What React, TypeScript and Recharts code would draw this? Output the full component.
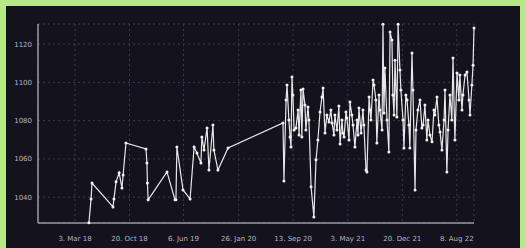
import { LineChart, Line, XAxis, YAxis, CartesianGrid } from 'recharts'

// x values are days after 3 Mar 2018
const dayOffsets = [
  59, 68, 72, 161, 165, 174, 187, 199, 204, 216, 301, 305, 307, 310, 390, 424, 428, 432, 458, 488,
  505, 517, 534, 538, 547, 560, 568, 585, 589, 606, 649,
  882, 886, 895, 899, 907, 912, 916, 920, 924, 929, 937, 946, 950, 958, 962, 967, 975, 979, 988, 992,
  1001, 1013, 1022, 1030, 1039, 1047, 1052, 1060, 1068, 1077, 1085, 1090, 1098, 1102, 1111, 1119,
  1124, 1132, 1136, 1141, 1149, 1153, 1162, 1166, 1174, 1179, 1187, 1196, 1200, 1204, 1213, 1221,
  1225, 1234, 1238, 1247, 1251, 1255, 1264, 1268, 1276, 1280, 1289, 1293, 1302, 1306, 1310, 1314,
  1323, 1331, 1336, 1344, 1348, 1353, 1357, 1365, 1370, 1378, 1382, 1391, 1395, 1403, 1408, 1416,
  1420, 1429, 1433, 1442, 1446, 1454, 1463, 1471, 1476, 1484, 1492, 1497, 1505, 1514, 1522, 1526,
  1535, 1543, 1548, 1556, 1565, 1569, 1577, 1582, 1590, 1598, 1603, 1611, 1620, 1628, 1632, 1641,
  1645, 1654, 1662, 1671, 1675, 1683, 1688, 1692,
]

const prices = [
  1026.6, 1039.1, 1047.4, 1034.9, 1039.1, 1048.0, 1052.7, 1044.8, 1051.6, 1068.3, 1065.2, 1057.9,
  1047.4, 1038.6, 1053.2, 1038.6, 1038.6, 1066.2, 1043.8, 1039.1,
  1066.2, 1063.1, 1057.9, 1071.5, 1064.7, 1076.2, 1054.2, 1077.7, 1064.7, 1054.2, 1065.7,
  1078.8, 1048.5, 1090.8, 1098.6, 1080.3, 1071.5, 1066.2, 1102.8, 1093.4, 1075.1, 1076.2, 1085.5,
  1072.5, 1096.0, 1071.5, 1096.5, 1088.2, 1075.1, 1087.1, 1080.3,
  1045.4, 1029.7, 1059.5, 1069.9, 1084.5, 1092.3, 1097.0, 1073.6, 1082.9, 1079.3, 1085.5, 1078.8,
  1072.5, 1082.9, 1075.1, 1087.6,
  1067.8, 1080.3, 1073.6, 1071.5, 1084.5, 1081.4, 1069.9, 1089.7, 1082.9, 1077.7, 1066.2, 1080.3,
  1072.5, 1086.6, 1073.6, 1085.5,
  1077.7, 1054.2, 1053.2, 1092.3, 1085.5, 1080.3, 1101.2, 1098.6, 1090.8, 1068.3, 1093.4, 1085.5,
  1075.1, 1130.4, 1084.0, 1107.5,
  1080.3, 1063.6, 1126.3, 1122.1, 1093.4, 1082.9, 1111.6, 1081.9, 1130.4, 1106.4, 1096.0, 1080.3,
  1065.7, 1093.4, 1090.8, 1077.7,
  1065.7, 1115.3, 1096.0, 1043.8, 1075.1, 1085.5, 1090.8, 1076.2, 1077.7, 1088.2, 1069.9, 1080.3,
  1072.5, 1068.9, 1085.5, 1082.9,
  1092.3, 1077.7, 1074.1, 1064.7, 1080.3, 1096.0, 1053.2, 1075.1, 1093.4, 1080.3, 1112.7, 1069.9,
  1104.9, 1090.8, 1103.8, 1085.5,
  1093.4, 1103.8, 1105.4, 1090.8, 1082.9, 1098.6, 1109.0, 1128.4,
]

const xTicks = [0, 231, 460, 694, 925, 1157, 1388, 1619]
const xTickLabels = ['3. Mar 18', '20. Oct 18', '6. Jun 19', '26. Jan 20', '13. Sep 20', '3. May 21', '20. Dec 21', '8. Aug 22']
const yTicks = [1040, 1060, 1080, 1100, 1120]

const data = dayOffsets.map((day, i) => ({ day, price: prices[i] }))

const labelFor = (v: number) => {
  const i = xTicks.indexOf(v)
  return i >= 0 ? xTickLabels[i] : ''
}

const tickStyle = { fill: '#b4b4bc', fontSize: 7, fontFamily: 'DejaVu Sans' }

export default function App() {
  return (
    <div style={{ position: 'fixed', left: 0, top: 0, width: 526, height: 248, background: '#b8e986' }}>
      <div style={{ position: 'absolute', left: 6, top: 6, width: 514, height: 242, background: '#14131d' }} />
      <div style={{ position: 'absolute', left: 0, top: 0 }}>
        <LineChart width={526} height={248} data={data} margin={{ top: 24, right: 52, bottom: 0, left: 0 }}>
          <CartesianGrid stroke="#3c3c48" strokeDasharray="2 3" />
          <XAxis
            dataKey="day"
            type="number"
            domain={[-157, 1692]}
            ticks={xTicks}
            tickFormatter={labelFor}
            interval={0}
            height={25}
            tickLine={false}
            tickSize={0}
            tickMargin={13}
            stroke="#9a9aa4"
            strokeWidth={1.5}
            tick={tickStyle}
          />
          <YAxis
            type="number"
            domain={[1026.5, 1130.5]}
            ticks={yTicks}
            width={38}
            tickLine={false}
            tickSize={0}
            tickMargin={6}
            stroke="#9a9aa4"
            strokeWidth={1.5}
            tick={tickStyle}
          />
          <Line
            dataKey="price"
            stroke="#e6e6ea"
            strokeWidth={1.2}
            dot={{ r: 1.5, fill: '#f2f2f2', stroke: 'none' }}
            isAnimationActive={false}
          />
        </LineChart>
      </div>
    </div>
  )
}
